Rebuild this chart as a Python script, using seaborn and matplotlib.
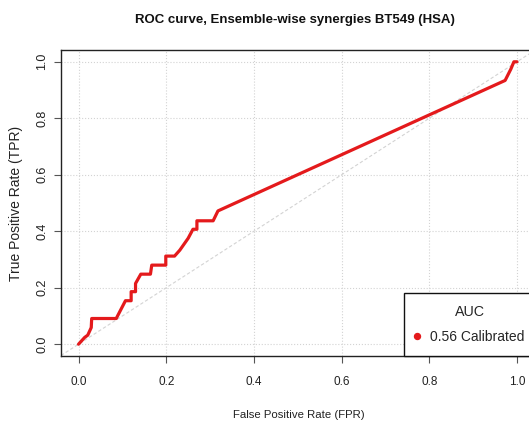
import matplotlib
matplotlib.use("Agg")
import matplotlib.pyplot as plt
from matplotlib.lines import Line2D
import pandas as pd
import seaborn as sns

# ROC curve points (false positive rate vs true positive rate)
fpr = [0.0, 0.014, 0.021, 0.029, 0.030, 0.086, 0.107, 0.120, 0.120, 0.130,
       0.130, 0.142, 0.164, 0.167, 0.199, 0.199, 0.219, 0.231, 0.250, 0.261,
       0.270, 0.270, 0.307, 0.318, 0.973, 0.986, 0.993, 1.0]
tpr = [0.0, 0.024, 0.032, 0.059, 0.091, 0.091, 0.154, 0.154, 0.186, 0.186,
       0.215, 0.248, 0.248, 0.280, 0.280, 0.312, 0.312, 0.333, 0.375, 0.407,
       0.407, 0.437, 0.437, 0.472, 0.934, 0.974, 1.0, 1.0]
auc_value = 0.56
series_label = "Calibrated"
tick_values = [0.0, 0.2, 0.4, 0.6, 0.8, 1.0]
tick_labels = ["0.0", "0.2", "0.4", "0.6", "0.8", "1.0"]

sns.set_theme(style="white")
plt.rcParams["font.family"] = ["Liberation Sans", "DejaVu Sans"]

roc = pd.DataFrame({"FPR": fpr, "TPR": tpr})

fig = plt.figure(figsize=(5.29, 4.23), dpi=100)
W, H = 529.0, 423.0
left, right, top, bottom = 61.0, 534.5, 50.5, 355.5
ax = fig.add_axes([left / W, 1 - bottom / H, (right - left) / W, (bottom - top) / H])

red = "#E41A1C"
grid_col = "#D3D3D3"

# reference diagonal
ax.axline((0, 0), (1, 1), color=grid_col, lw=0.8, ls=(0, (3, 2)), zorder=1)

sns.lineplot(data=roc, x="FPR", y="TPR", sort=False, estimator=None,
             color=red, lw=2.3, ax=ax, zorder=3)

ax.set_xlim(-0.04, 1.04)
ax.set_ylim(-0.04, 1.04)
ax.set_xticks(tick_values)
ax.set_xticklabels(tick_labels, fontsize=8.5)
ax.set_yticks(tick_values)
ax.set_yticklabels(tick_labels, rotation=90, va="center", fontsize=9)

ax.grid(True, color=grid_col, ls=":", lw=0.8, zorder=0)
for s in ax.spines.values():
    s.set_color("#222222")
    s.set_linewidth(1.0)
    s.set_visible(True)

ax.tick_params(axis="both", which="major", direction="out", length=5,
               width=0.8, color="#555555", labelcolor="#222222")
ax.tick_params(axis="x", pad=9.5, bottom=True)
ax.tick_params(axis="y", pad=4, left=True)

ax.set_xlabel("False Positive Rate (FPR)", fontsize=8.2, color="#222222", va="center")
ax.set_ylabel("True Positive Rate (TPR)", fontsize=10, color="#222222", va="center")
ax.xaxis.set_label_coords((299 - left) / (right - left), (bottom - 415) / (bottom - top))
ax.yaxis.set_label_coords((16 - left) / (right - left), 0.5)

ax.set_title("ROC curve, Ensemble-wise synergies BT549 (HSA)", fontsize=9.5,
             fontweight="bold", color="#111111",
             x=(295 - left) / (right - left), pad=20)

handle = Line2D([], [], ls="none", marker="o", markersize=4.3, color=red)
leg = ax.legend([handle], [f"{auc_value:.2f} {series_label}"], title="AUC",
                loc="lower left", bbox_to_anchor=((404 - left) / (right - left), 0.0),
                borderaxespad=0, fontsize=10, title_fontsize=10.3, frameon=True,
                fancybox=False, framealpha=1, edgecolor="#111111",
                borderpad=0.85, handlelength=0.1, handletextpad=0.95,
                labelspacing=0.75)
leg.get_frame().set_linewidth(1.0)
leg.set_zorder(5)

fig.savefig("out.png", dpi=100)
